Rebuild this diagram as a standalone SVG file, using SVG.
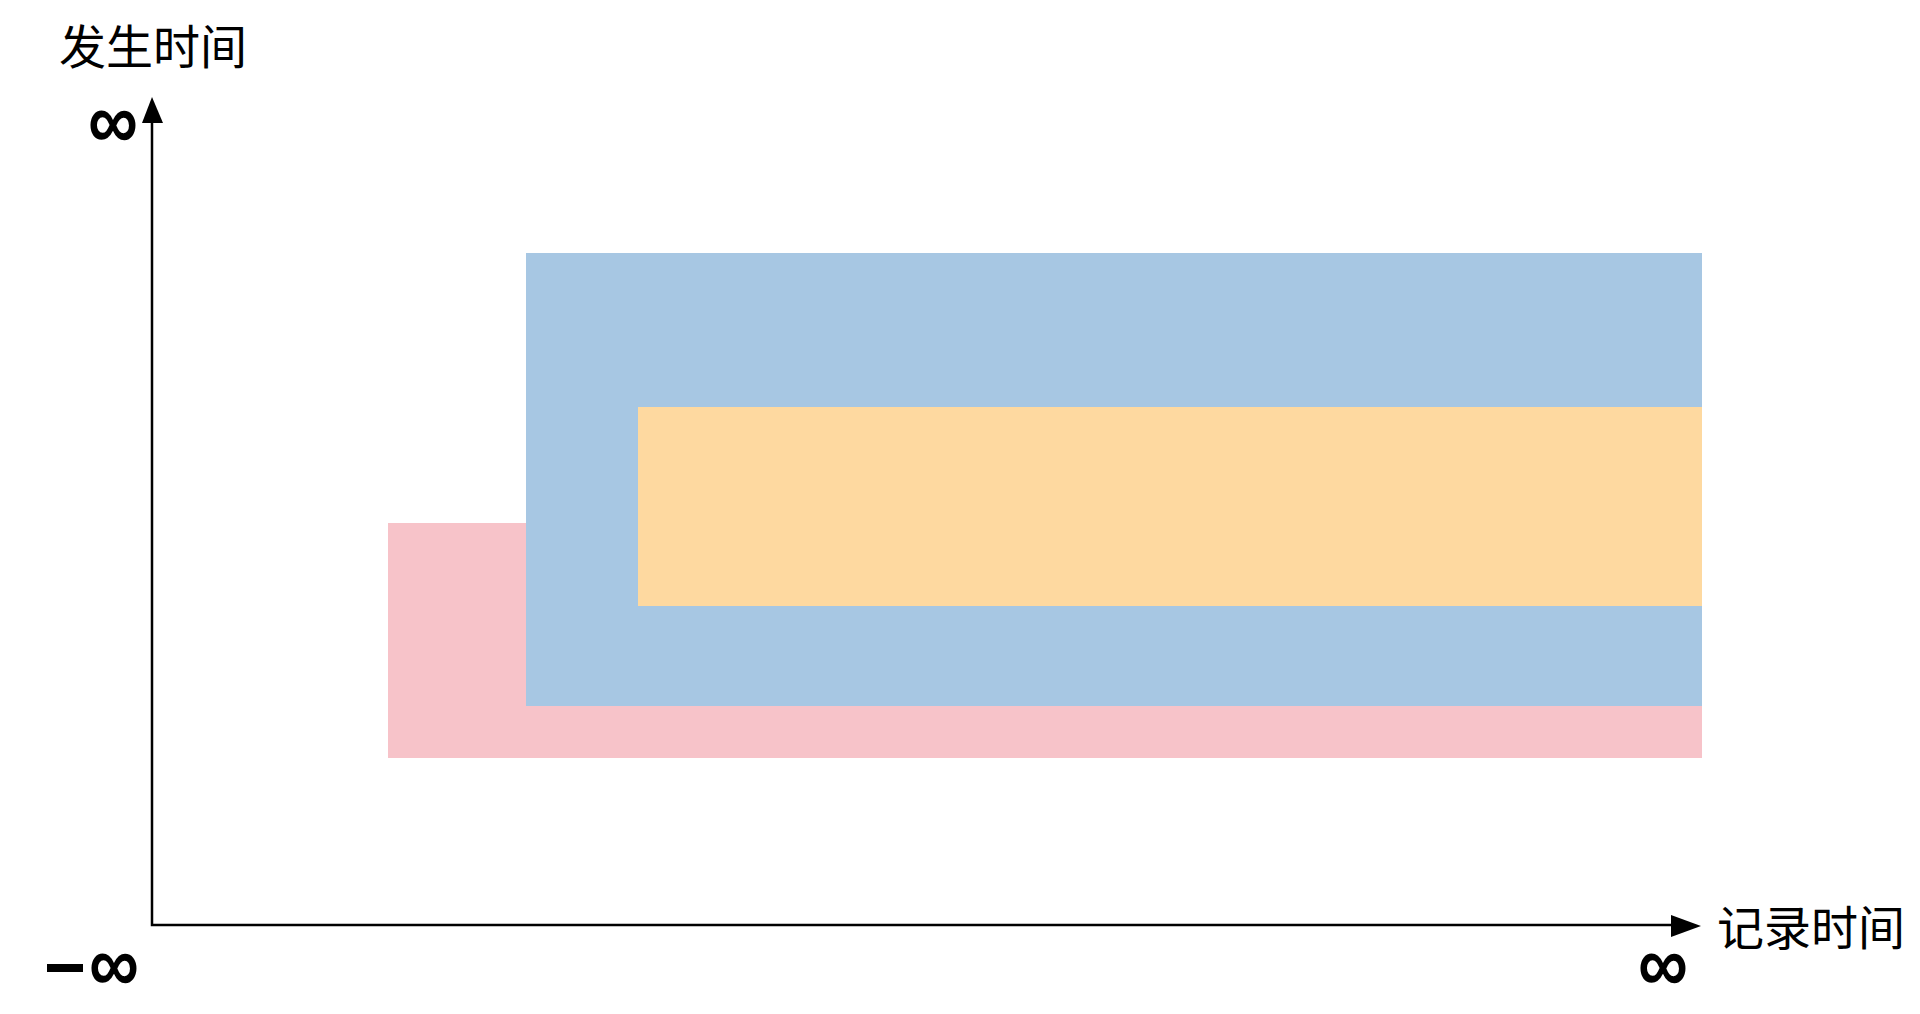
<svg xmlns="http://www.w3.org/2000/svg" width="1920" height="1014" viewBox="0 0 1920 1014">
<style>
.lbl{font-family:"Liberation Sans","Noto Sans CJK SC",sans-serif;font-size:47px;fill:#000}
.inf{font-family:"Liberation Sans",sans-serif;font-weight:bold;font-size:70px;fill:#000}
.axis{stroke:#000;stroke-width:2.5;fill:none}
</style>
<rect width="1920" height="1014" fill="#fff"/>
<g id="regions">
<rect id="pink" x="388" y="523" width="1314" height="235" fill="#F7C3C9"/>
<rect id="blue" x="526" y="253" width="1176" height="453" fill="#A7C7E3"/>
<rect id="orange" x="638" y="407" width="1064" height="199" fill="#FED9A0"/>
</g>
<g id="connectors">
<path class="axis" d="M152 120 V925 H1675"/>
<polygon points="152,97 142,123 163,123" fill="#000"/>
<polygon points="1701,926 1671,915 1671,937" fill="#000"/>
</g>
<g id="labels">
<text class="lbl" x="59" y="64">发生时间</text>
<text class="lbl" x="1717" y="945">记录时间</text>
<text class="inf" transform="translate(113,149) scale(1,1.17)" text-anchor="middle">∞</text>
<text class="inf" transform="translate(1663,992) scale(1,1.17)" text-anchor="middle">∞</text>
<rect x="47" y="964" width="36" height="8" fill="#000"/>
<text class="inf" transform="translate(114,992) scale(1,1.17)" text-anchor="middle">∞</text>
</g>
</svg>
